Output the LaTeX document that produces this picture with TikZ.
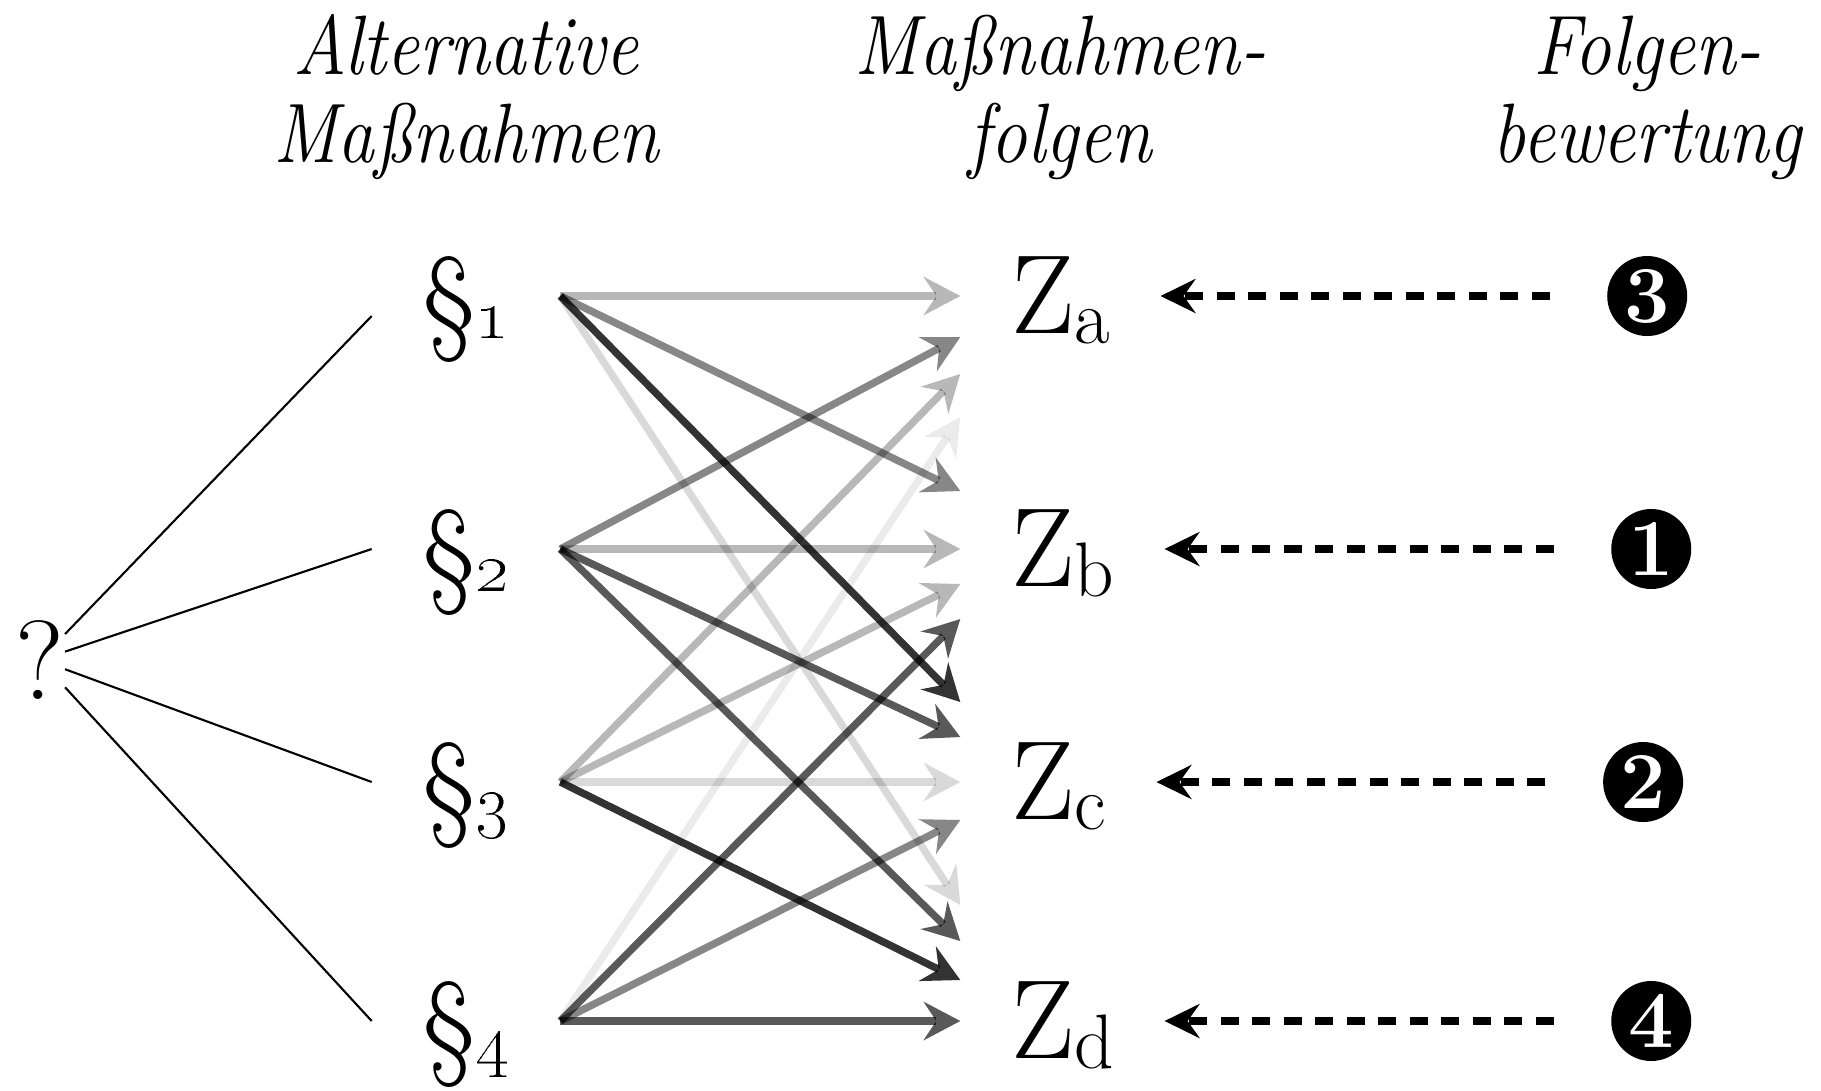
\documentclass[tikz,border=0pt]{standalone}
\usepackage{tikz}
\usetikzlibrary{arrows.meta,positioning}
\newcommand{\zsub}[1]{\raisebox{-0.1cm}{\fontsize{22}{22}\selectfont #1}}
\newcommand{\parnum}[1]{\S{\huge\oldstylenums{#1}}}
\newcommand{\schmal}[1]{\scalebox{0.87}[1]{\strut #1}}
\tikzset{
  para/.style   = {font=\fontsize{33}{36}\selectfont, inner xsep=0.5cm, inner ysep=0pt,
                   text height=0.9cm, text depth=0.06cm},
  ziel/.style   = {font=\fontsize{32}{36}\selectfont, inner xsep=0.5cm, inner ysep=0pt,
                   text height=0.8cm, text depth=0.06cm},
  rang/.style   = {circle, fill=black, text=white, minimum size=0.8cm, inner sep=0pt,
                   font=\fontsize{23}{23}\selectfont\bfseries},
  head/.style   = {font=\fontsize{24}{25}\selectfont\itshape, align=center},
  frage/.style  = {font=\fontsize{32}{36}\selectfont, inner sep=0pt},
  link/.style   = {line width=0.6pt},
  arr/.style    = {-{Stealth[length=0.37cm, width=0.39cm, inset=0.13cm, line width=0pt]},
                   line width=2.1pt},
  darr/.style   = {-{Stealth[length=0.35cm, width=0.34cm, inset=0.12cm]}, line width=2.2pt,
                   dash pattern=on 0.18cm off 0.135cm},
  deep/.style   = {opacity=0.8},
  dark/.style   = {opacity=0.65},
  medium/.style = {opacity=0.47},
  light/.style  = {opacity=0.28},
  pale/.style   = {opacity=0.15},
  faint/.style  = {opacity=0.08},
}
\begin{document}
\begin{tikzpicture}
\useasboundingbox (0,0) rectangle (18.21,-10.90);

%% -- Question and alternatives ------------------------------------------
\node[frage] (q) at (0.40,-6.60) {?};
\node[para] (p1) at (4.66,-2.96)  {\parnum{1}};
\node[para] (p2) at (4.66,-5.49)  {\parnum{2}};
\node[para] (p3) at (4.66,-7.82)  {\parnum{3}};
\node[para] (p4) at (4.66,-10.21) {\parnum{4}};

%% -- Consequences ---------------------------------------------------------
\node[ziel, right=4cm of p1] (za) {Z\zsub{a}};
\node[ziel, right=4cm of p2] (zb) {Z\zsub{b}};
\node[ziel, right=4cm of p3] (zc) {Z\zsub{c}};
\node[ziel, right=4cm of p4] (zd) {Z\zsub{d}};

%% -- Ranking --------------------------------------------------------------
\node[rang, right=4.46cm of za] (ra) {3};
\node[rang, right=4.46cm of zb] (rb) {1};
\node[rang, right=4.46cm of zc] (rc) {2};
\node[rang, right=4.46cm of zd] (rd) {4};

%% -- Column heads ---------------------------------------------------------
\coordinate (kopf) at (0,-1.01);
\node[head] (h1) at (p1 |- kopf) {\schmal{Alternative}\\\schmal{Maßnahmen}};
\node[head] (h2) at (za |- kopf) {\schmal{Maßnahmen-}\\\schmal{folgen}};
\node[head] (h3) at (ra |- kopf) {\schmal{Folgen-}\\\schmal{bewertung}};

%% -- ? to alternatives ----------------------------------------------------
\draw[link] (q) -- ([yshift=-0.2cm]p1.west);
\draw[link] (q) -- (p2.west);
\draw[link] (q) -- (p3.west);
\draw[link] (q) -- (p4.west);

%% -- alternatives to consequences -----------------------------------------
\draw[arr, light]  (p1.east) -- (za.west);
\draw[arr, medium] (p1.east) -- ([yshift=0.58cm]zb.west);
\draw[arr, deep]   (p1.east) -- ([yshift=0.80cm]zc.west);
\draw[arr, pale]   (p1.east) -- ([yshift=1.16cm]zd.west);

\draw[arr, medium] (p2.east) -- ([yshift=-0.41cm]za.west);
\draw[arr, light]  (p2.east) -- (zb.west);
\draw[arr, dark]   (p2.east) -- ([yshift=0.45cm]zc.west);
\draw[arr, dark]   (p2.east) -- ([yshift=0.80cm]zd.west);

\draw[arr, light]  (p3.east) -- ([yshift=-0.78cm]za.west);
\draw[arr, light]  (p3.east) -- ([yshift=-0.35cm]zb.west);
\draw[arr, pale]   (p3.east) -- (zc.west);
\draw[arr, deep]   (p3.east) -- ([yshift=0.41cm]zd.west);

\draw[arr, faint]  (p4.east) -- ([yshift=-1.21cm]za.west);
\draw[arr, dark]   (p4.east) -- ([yshift=-0.70cm]zb.west);
\draw[arr, medium] (p4.east) -- ([yshift=-0.38cm]zc.west);
\draw[arr, dark]   (p4.east) -- (zd.west);

%% -- ranking to consequences ----------------------------------------------
\draw[darr, shorten <=0.57cm] (ra) -- (za);
\draw[darr, shorten <=0.57cm] (rb) -- (zb);
\draw[darr, shorten <=0.57cm] (rc) -- (zc);
\draw[darr, shorten <=0.57cm] (rd) -- (zd);

\end{tikzpicture}
\end{document}
